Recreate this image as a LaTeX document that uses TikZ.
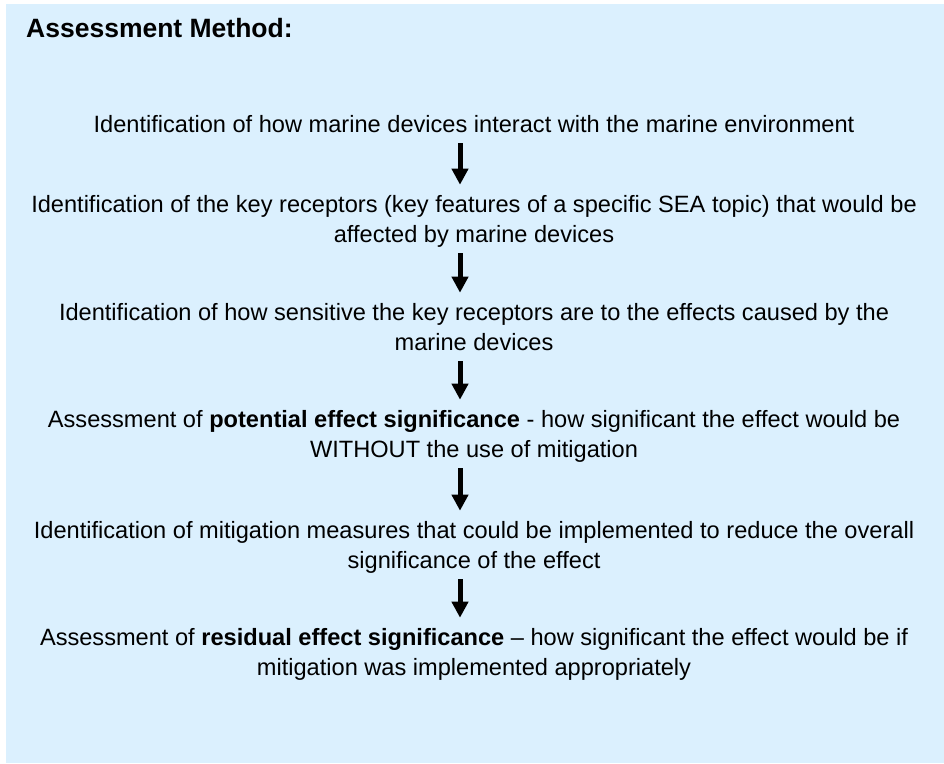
\documentclass[tikz,border=0pt]{standalone}
\usepackage{fontspec}
\setmainfont{Liberation Sans}
\usetikzlibrary{arrows.meta}
\definecolor{panelblue}{HTML}{DBF0FE}

\begin{document}
\begin{tikzpicture}[x=1pt,y=-1pt,
  step text/.style={anchor=base,align=center,inner sep=0pt,font=\fontsize{23.6}{30}\selectfont},
  flow/.style={line width=5pt,-{Triangle[width=16pt,length=16pt]}}]
\useasboundingbox (0,0) rectangle (944,763);
\fill[panelblue] (6,4) rectangle (944,763);
\node[anchor=base west,inner sep=0pt,font=\fontsize{26.5}{30}\selectfont\bfseries] (title) at (26,37) {Assessment Method:};
\coordinate (ax) at (460,0);
\node[step text] (s1) at (474,132) {Identification of how marine devices interact with the marine environment};
\node[step text] (s2) at (474,242) {Identification of the key receptors (key features of a specific SEA topic) that would be\\ affected by marine devices};
\node[step text] (s3) at (474,350) {Identification of how sensitive the key receptors are to the effects caused by the\\ marine devices};
\node[step text] (s4) at (474,457) {Assessment of \textbf{potential effect significance} - how significant the effect would be\\ WITHOUT the use of mitigation};
\node[step text] (s5) at (474,568) {Identification of mitigation measures that could be implemented to reduce the overall\\ significance of the effect};
\node[step text] (s6) at (474,675) {Assessment of \textbf{residual effect significance} – how significant the effect would be if\\ mitigation was implemented appropriately};
\draw[flow] ([yshift=-11pt]s1.base -| ax) -- ([yshift=10pt]s2.north -| ax);
\draw[flow] ([yshift=-11pt]s2.base -| ax) -- ([yshift=10pt]s3.north -| ax);
\draw[flow] ([yshift=-11pt]s3.base -| ax) -- ([yshift=10pt]s4.north -| ax);
\draw[flow] ([yshift=-11pt]s4.base -| ax) -- ([yshift=10pt]s5.north -| ax);
\draw[flow] ([yshift=-11pt]s5.base -| ax) -- ([yshift=10pt]s6.north -| ax);
\end{tikzpicture}
\end{document}
